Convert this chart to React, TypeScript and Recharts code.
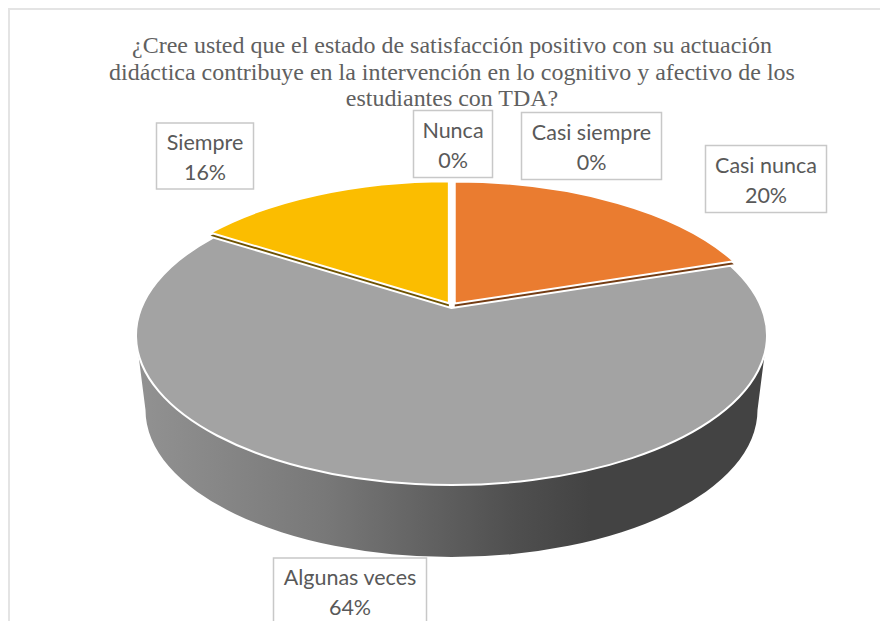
import { Pie, PieChart } from 'recharts';

const categories = ['Algunas veces', 'Siempre', 'Nunca', 'Casi siempre', 'Casi nunca'];
const percentages = [64, 16, 0, 0, 20];
const colors = ['#a3a3a3', '#fbbd00', '#5b9bd5', '#4472c4', '#ea7c30'];
const edgeColors = ['#5f5f5f', '#6e5200', '#2e4e6b', '#223963', '#733c14'];
const titleLines = [
  '¿Cree usted que el estado de satisfacción positivo con su actuación',
  'didáctica contribuye en la intervención en lo cognitivo y afectivo de los',
  'estudiantes con TDA?',
];

const data = categories.map((name, i) => ({
  name,
  value: percentages[i],
  fill: colors[i],
  edge: edgeColors[i],
}));

// label boxes were dragged by hand in the original chart
const labelBoxes: Record<string, { x: number; y: number; w: number; h: number }> = {
  Siempre: { x: 156.5, y: 123, w: 97, h: 66 },
  Nunca: { x: 413.5, y: 110.5, w: 79, h: 67 },
  'Casi siempre': { x: 521.5, y: 112.5, w: 140, h: 67 },
  'Casi nunca': { x: 705.5, y: 145.5, w: 121, h: 67 },
  'Algunas veces': { x: 273.5, y: 558, w: 153, h: 67 },
};

const CX = 451.5;
const CY = 335.5;
const RX = 315.5;
const RY = 149.5;
const TILT = 0.184; // how far perspective pushes the pie centre back
const EXPLODE = 5.5;
const BOTTOM_CY = 410;
const BOTTOM_RX = 306;
const BOTTOM_RY = 147;

// true pie angle -> point on the tilted ellipse
function project(deg: number, cx: number, cy: number) {
  const t = ((90 - deg) * Math.PI) / 180;
  const x = Math.sin(t);
  const y = Math.cos(t);
  const d = 1 + TILT * y;
  return {
    x: cx + (RX * x * Math.sqrt(1 - TILT * TILT)) / d,
    y: cy - (RY * (y + TILT)) / d,
    phi: Math.atan2(x * Math.sqrt(1 - TILT * TILT), y + TILT),
  };
}

function topSlice(props: any) {
  const { cx, cy, startAngle, endAngle, value, fill, edge } = props;
  if (!value) return <g />;
  const a = project(startAngle, cx, cy);
  const b = project(endAngle, cx, cy);
  let sweep = b.phi - a.phi;
  if (sweep < 0) sweep += Math.PI * 2;
  const apexX = cx;
  const apexY = cy - RY * TILT;
  const d = `M${apexX},${apexY} L${a.x},${a.y} A${RX},${RY} 0 ${sweep > Math.PI ? 1 : 0} 1 ${b.x},${b.y} Z`;
  let dx = 0;
  let dy = 0;
  if (value < 50) {
    const mid = (((90 - (startAngle + endAngle) / 2) % 360) * Math.PI) / 180;
    dx = Math.sin(mid) * EXPLODE;
    dy = -Math.cos(mid) * EXPLODE;
  }
  return (
    <g transform={`translate(${dx} ${dy})`}>
      {value < 50 && <path d={d} fill={edge} transform="translate(0 3)" />}
      <path d={d} fill={fill} stroke="#ffffff" strokeWidth={2} strokeLinejoin="round" />
    </g>
  );
}

function wallSlice(props: any) {
  const { cx, value } = props;
  // only the biggest slice faces the viewer
  if (value < 50) return <g />;
  const d = `M${cx + RX},${CY} L${cx + BOTTOM_RX},${BOTTOM_CY} A${BOTTOM_RX},${BOTTOM_RY} 0 0 1 ${cx - BOTTOM_RX},${BOTTOM_CY} L${cx - RX},${CY} Z`;
  return <path d={d} fill="url(#wallGradient)" />;
}

function renderLabel(props: any) {
  const { name, value } = props;
  const box = labelBoxes[name];
  const mid = box.x + box.w / 2;
  return (
    <g key={name}>
      <rect x={box.x} y={box.y} width={box.w} height={box.h} fill="#ffffff" stroke="#c8c8c8" strokeWidth={1.5} />
      <text x={mid} y={box.y + 27} textAnchor="middle" fontFamily="Lato" fontSize={21.5} fill="#595959">
        {name}
      </text>
      <text x={mid} y={box.y + 57} textAnchor="middle" fontFamily="Lato" fontSize={21.5} fill="#595959">
        {value}%
      </text>
    </g>
  );
}

export default function App() {
  return (
    <div style={{ position: 'absolute', left: 0, top: 0, width: 880, height: 621, overflow: 'hidden', background: '#fff' }}>
      <div
        style={{
          position: 'absolute',
          left: 8,
          top: 8,
          width: 880,
          height: 640,
          borderLeft: '2px solid #e4e4e4',
          borderTop: '2px solid #e4e4e4',
        }}
      />
      <div style={{ position: 'absolute', left: 0, top: 0 }}>
        <PieChart width={880} height={621} margin={{ top: 0, right: 0, bottom: 0, left: 0 }}>
          <defs>
            <linearGradient id="wallGradient" x1="0" y1="0" x2="1" y2="0">
              <stop offset="0" stopColor="#929292" />
              <stop offset="0.3" stopColor="#787878" />
              <stop offset="0.6" stopColor="#4f4f4f" />
              <stop offset="0.72" stopColor="#434343" />
              <stop offset="1" stopColor="#434343" />
            </linearGradient>
          </defs>
          {titleLines.map((line, i) => (
            <text
              key={line}
              transform={`translate(452 ${53 + i * 26.5}) scale(1.065 1)`}
              textAnchor="middle"
              fontFamily="Liberation Serif"
              fontSize={22.5}
              fill="#606060"
            >
              {line}
            </text>
          ))}
          <Pie
            data={data}
            dataKey="value"
            nameKey="name"
            cx={CX}
            cy={CY}
            outerRadius={RX}
            startAngle={18}
            endAngle={-342}
            stroke="none"
            shape={wallSlice}
            isAnimationActive={false}
          />
          <Pie
            data={data}
            dataKey="value"
            nameKey="name"
            cx={CX}
            cy={CY}
            outerRadius={RX}
            startAngle={18}
            endAngle={-342}
            shape={topSlice}
            label={renderLabel}
            labelLine={false}
            isAnimationActive={false}
          />
        </PieChart>
      </div>
    </div>
  );
}
